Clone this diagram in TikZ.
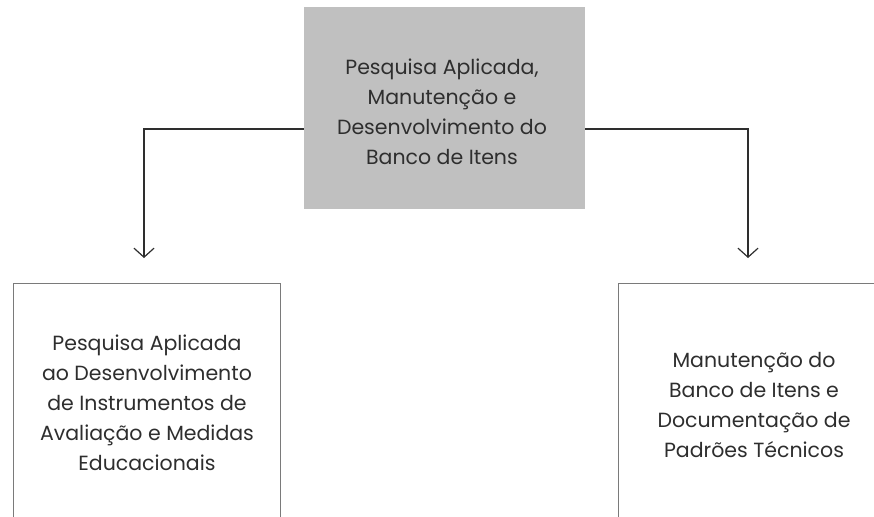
\documentclass[tikz,border=0pt]{standalone}
\usepackage{fontspec}
\setmainfont{Poppins}
\usetikzlibrary{arrows.meta,calc}
\definecolor{txt}{HTML}{2E2E2E}
\definecolor{boxgray}{HTML}{C0C0C0}
\definecolor{edge}{HTML}{7A7A7A}
\tikzset{
  topbox/.style={rectangle, fill=boxgray, draw=none, minimum width=281pt, minimum height=202pt, inner sep=0pt},
  subbox/.style={rectangle, draw=edge, line width=1pt, fill=white, minimum width=267pt, minimum height=280pt, inner sep=0pt},
  lbl/.style={text=txt, align=center, font=\fontsize{20.5}{30}\selectfont, inner sep=0pt},
  conn/.style={draw=txt, line width=1.2pt, -{Straight Barb[length=9pt,width=20pt,line width=1.2pt]}},
}
\begin{document}
\begin{tikzpicture}[x=1pt,y=-1pt]
\path[use as bounding box, clip] (0,0) rectangle (874,516);
\fill[white] (0,0) rectangle (874,516);
\node[topbox] (top) at (444.5,108) {};
\node[lbl] (toptxt) at (442,112) {Pesquisa Aplicada,\\Manutenção e\\Desenvolvimento do\\Banco de Itens};
\node[subbox] (lbox) at (146.5,423) {};
\node[lbl] (ltxt) at (147,403) {Pesquisa Aplicada\\ao Desenvolvimento\\de Instrumentos de\\Avaliação e Medidas\\Educacionais};
\node[subbox, minimum width=300pt] (rbox) at (768,423) {};
\node[lbl] (rtxt) at (754,405) {Manutenção do\\Banco de Itens e\\Documentação de\\Padrões Técnicos};
\coordinate (lend) at (144,258);
\coordinate (rend) at (748,258);
\draw[conn] ($(top.west)+(0,21)$) -| (lend);
\draw[conn] ($(top.east)+(0,21)$) -| (rend);
\end{tikzpicture}
\end{document}
